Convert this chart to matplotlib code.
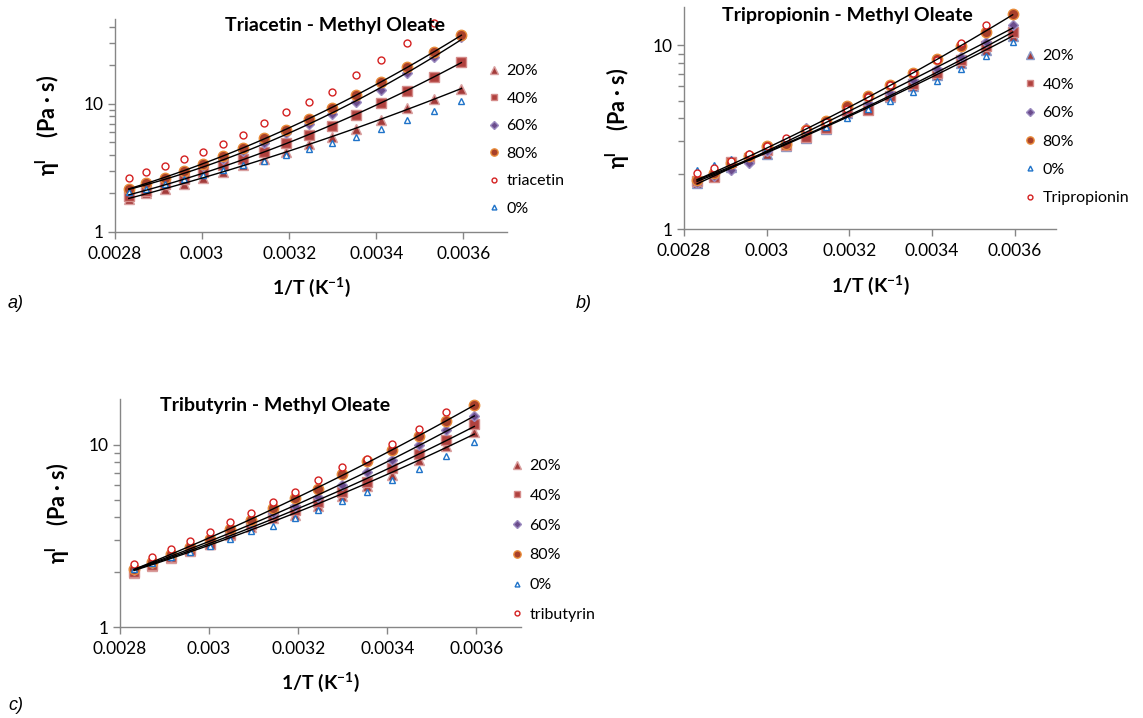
import matplotlib
matplotlib.use("Agg")
import matplotlib.pyplot as plt
from matplotlib.ticker import LogLocator, FixedLocator, FixedFormatter, NullFormatter
import numpy as np

plt.rcParams['font.family'] = ['Lato', 'DejaVu Sans']
plt.rcParams['mathtext.fontset'] = 'custom'
plt.rcParams['mathtext.rm'] = 'Lato'
plt.rcParams['mathtext.bf'] = 'Lato:bold'

nan = np.nan

# 1/T (K^-1), 80 C down to 5 C
inv_T = [0.0028317, 0.0028723, 0.0029142, 0.0029573, 0.0030017, 0.0030474,
         0.0030945, 0.0031432, 0.0031934, 0.0032452, 0.0032987, 0.0033540,
         0.0034112, 0.0034704, 0.0035317, 0.0035952]

x_ticks = [0.0028, 0.003, 0.0032, 0.0034, 0.0036]
x_tick_labels = ["0.0028", "0.003", "0.0032", "0.0034", "0.0036"]

# a) triacetin - methyl oleate, viscosity (Pa s)
a_20 = [1.82, 2.00, 2.18, 2.39, 2.64, 2.94, 3.32, 3.74, 4.22, 4.84, 5.52, 6.42, 7.55, 9.21, 10.9, 13.1]
a_40 = [1.90, 2.09, 2.36, 2.61, 2.94, 3.32, 3.70, 4.22, 4.91, 5.69, 6.78, 8.16, 10.2, 12.6, 16.3, 21.4]
a_60 = [2.09, 2.32, 2.57, 2.89, 3.28, 3.74, 4.29, 4.91, 5.93, 6.94, 8.31, 10.4, 12.8, 17.5, 23.3, 33.0]
a_80 = [2.16, 2.41, 2.66, 3.02, 3.42, 3.92, 4.56, 5.37, 6.31, 7.64, 9.37, 11.7, 14.9, 19.5, 25.2, 34.4]
a_0 = [2.05, 2.18, 2.39, 2.58, 2.81, 3.03, 3.36, 3.59, 3.97, 4.43, 4.96, 5.52, 6.42, 7.46, 8.82, 10.5]
a_pure = [2.66, 2.94, 3.30, 3.72, 4.22, 4.87, 5.73, 7.11, 8.57, 10.4, 12.3, 16.8, 22.2, 30.0, 42.5, nan]

# b) tripropionin - methyl oleate
b_20 = [1.78, 2.00, 2.19, 2.44, 2.57, 2.85, 3.15, 3.50, 4.30, 4.55, 5.25, 6.00, 6.90, 8.00, 9.50, 11.3]
b_40 = [1.82, 1.92, 2.31, 2.45, 2.70, 2.88, 3.19, 3.55, 4.37, 4.46, 5.30, 6.20, 7.10, 8.30, 9.90, 11.9]
b_60 = [1.79, 1.94, 2.10, 2.30, 2.65, 3.00, 3.55, 3.90, 4.50, 4.85, 5.50, 6.50, 7.40, 8.70, 10.4, 12.9]
b_80 = [1.86, 2.02, 2.29, 2.51, 2.82, 2.92, 3.47, 3.90, 4.69, 5.30, 6.10, 7.10, 8.40, 9.90, 11.9, 14.8]
b_0 = [2.09, 2.24, 2.40, 2.59, 2.76, 3.09, 3.47, 3.60, 4.00, 4.50, 5.00, 5.60, 6.40, 7.40, 8.80, 10.5]
b_pure = [2.02, 2.15, 2.34, 2.55, 2.82, 3.13, 3.50, 3.85, 4.50, 5.25, 6.10, 7.10, 8.30, 10.3, 12.9, nan]

# c) tributyrin - methyl oleate
c_20 = [1.97, 2.16, 2.40, 2.61, 2.85, 3.20, 3.55, 3.95, 4.12, 4.62, 5.24, 5.95, 6.84, 8.27, 9.79, 11.7]
c_40 = [2.01, 2.18, 2.43, 2.64, 2.87, 3.24, 3.67, 4.12, 4.39, 4.82, 5.47, 6.28, 7.44, 8.92, 10.6, 12.9]
c_60 = [2.05, 2.23, 2.45, 2.70, 2.96, 3.33, 3.70, 4.21, 4.62, 5.19, 6.02, 7.04, 8.27, 10.0, 12.0, 14.3]
c_80 = [2.09, 2.28, 2.51, 2.76, 3.05, 3.46, 3.87, 4.48, 5.09, 5.70, 6.92, 8.09, 9.38, 11.2, 13.4, 16.4]
c_0 = [2.07, 2.23, 2.41, 2.59, 2.79, 3.05, 3.38, 3.60, 3.98, 4.39, 4.94, 5.53, 6.36, 7.38, 8.70, 10.4]
c_pure = [2.21, 2.43, 2.67, 2.96, 3.33, 3.75, 4.22, 4.82, 5.53, 6.42, 7.57, 8.37, 10.1, 12.2, 15.1, nan]

mix_labels = ["20%", "40%", "60%", "80%"]

W, H = 1143, 718
fig = plt.figure(figsize=(W / 100, H / 100), dpi=100)

axis_gray = '#868686'


def px_axes(left, top, right, bottom):
    return fig.add_axes([left / W, 1 - bottom / H, (right - left) / W, (bottom - top) / H])


def style(name, tri_edge):
    # marker styles per series
    return {
        "20%": dict(marker='^', ms=7.5, mfc='#A33B3A', mec=tri_edge, mew=1.0),
        "40%": dict(marker='s', ms=7, mfc='#B0413E', mec='#D58C8A', mew=1.0),
        "60%": dict(marker='D', ms=5.5, mfc='#6B4C8C', mec='#9C8CC0', mew=1.0),
        "80%": dict(marker='o', ms=7.5, mfc='#A8402A', mec='#E88B3A', mew=1.0),
        "0%": dict(marker='^', ms=5, mfc='white', mec='#1F73C9', mew=1.0),
        "pure": dict(marker='o', ms=5, mfc='white', mec='#D42020', mew=1.0),
    }[name]


def panel(ax, series, pure_name, order, ylim, tri_edge, leg_x, leg_y0, leg_dy):
    handles = {}
    x = np.array(inv_T)
    for name, y in series:
        st = style(name if name != pure_name else "pure", tri_edge)
        h, = ax.plot(x, y, ls='none', zorder=3, **st)
        handles[name] = h
    # trend lines through the mixtures
    for name, y in series:
        if name in mix_labels:
            y = np.array(y)
            c = np.polyfit(x, np.log10(y), 2)
            xf = np.linspace(x[0], x[-1], 100)
            ax.plot(xf, 10 ** np.polyval(c, xf), color='black', lw=1.0, zorder=4)

    ax.set_yscale('log')
    ax.set_xlim(0.0028, 0.0037)
    ax.set_ylim(*ylim)
    ax.xaxis.set_major_locator(FixedLocator(x_ticks))
    ax.xaxis.set_major_formatter(FixedFormatter(x_tick_labels))
    ax.yaxis.set_major_locator(FixedLocator([1, 10]))
    ax.yaxis.set_major_formatter(FixedFormatter(["1", "10"]))
    ax.yaxis.set_minor_locator(LogLocator(base=10, subs=np.arange(2, 10)))
    ax.yaxis.set_minor_formatter(NullFormatter())
    for s in ['top', 'right']:
        ax.spines[s].set_visible(False)
    for s in ['left', 'bottom']:
        ax.spines[s].set_color(axis_gray)
        ax.spines[s].set_linewidth(1.0)
    ax.tick_params(which='both', color=axis_gray, direction='out', labelsize=12.5, width=1.0)
    ax.tick_params(which='major', length=5)
    ax.tick_params(which='minor', length=4)
    ax.tick_params(axis='x', pad=5)

    ax.set_xlabel('1/T (K$^{\\mathbf{-1}}$)', fontsize=14, fontweight='bold')
    ax.set_ylabel('η$^{\\mathbf{l}}$    (Pa · s)', fontsize=15.5, fontweight='bold')

    ax.legend([handles[n] for n in order], order,
              loc='upper left', bbox_to_anchor=(leg_x / W, 1 - leg_y0 / H),
              bbox_transform=fig.transFigure, frameon=False, fontsize=11.5,
              markerscale=0.7, handlelength=0.6, handletextpad=0.5,
              labelspacing=(leg_dy - 14.0) / 16, borderpad=0, borderaxespad=0)
    return ax


# panel a
ax_a = px_axes(115, 19, 507, 232)
panel(ax_a, [("20%", a_20), ("40%", a_40), ("60%", a_60), ("80%", a_80),
             ("0%", a_0), ("triacetin", a_pure)],
      "triacetin", ["20%", "40%", "60%", "80%", "triacetin", "0%"],
      (1, 46), '#D9A0A0', 489, 64, 27.4)
ax_a.yaxis.set_label_coords(-0.135, 0.5)
ax_a.xaxis.set_label_coords(0.5, -0.2)

# panel b
ax_b = px_axes(684, 7, 1056, 229)
panel(ax_b, [("20%", b_20), ("40%", b_40), ("60%", b_60), ("80%", b_80),
             ("0%", b_0), ("Tripropionin", b_pure)],
      "Tripropionin", ["20%", "40%", "60%", "80%", "0%", "Tripropionin"],
      (1, 16.2), '#8A9AC8', 1025, 49, 28.3)
ax_b.yaxis.set_label_coords(-0.14, 0.5)
ax_b.xaxis.set_label_coords(0.5, -0.2)

# panel c
ax_c = px_axes(120, 399, 521, 627)
panel(ax_c, [("20%", c_20), ("40%", c_40), ("60%", c_60), ("80%", c_80),
             ("0%", c_0), ("tributyrin", c_pure)],
      "tributyrin", ["20%", "40%", "60%", "80%", "0%", "tributyrin"],
      (1, 17.8), '#D9A0A0', 512, 459, 29.6)
ax_c.yaxis.set_label_coords(-0.12, 0.5)
ax_c.xaxis.set_label_coords(0.5, -0.19)

# titles inside the plots
fig.text(335 / W, 1 - 25 / H, "Triacetin - Methyl Oleate", ha='center', va='center',
         fontsize=14, fontweight='bold')
fig.text(847 / W, 1 - 15 / H, "Tripropionin - Methyl Oleate", ha='center', va='center',
         fontsize=14, fontweight='bold')
fig.text(275 / W, 1 - 406 / H, "Tributyrin - Methyl Oleate", ha='center', va='center',
         fontsize=14, fontweight='bold')

# panel letters
for lab, px, py in [("a)", 8, 303), ("b)", 576, 303), ("c)", 8, 705)]:
    fig.text(px / W, 1 - py / H, lab, ha='left', va='center', fontsize=13,
             style='italic', family='Liberation Sans')

fig.savefig("out.png", dpi=100)
